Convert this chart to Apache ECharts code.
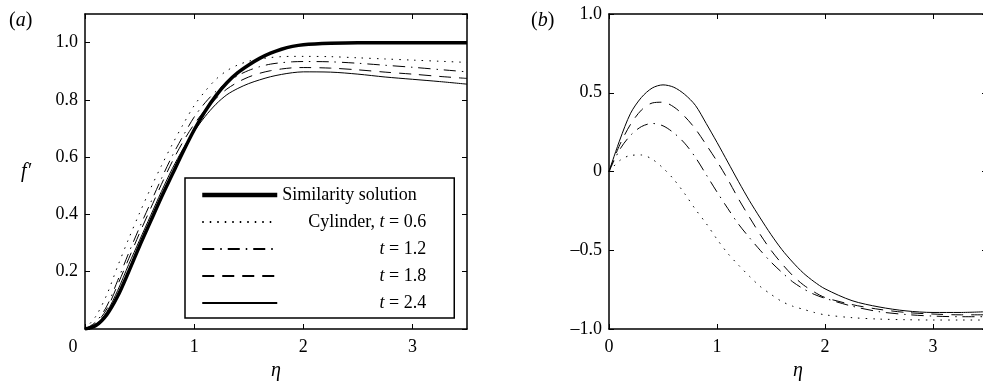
<!DOCTYPE html>
<html lang="en">
<head>
    <meta charset="UTF-8">
    <title>f' profiles</title>
    <script src="https://cdn.jsdelivr.net/npm/echarts/dist/echarts.min.js"></script>
</head>
<body style="margin: 0">
    <div id="chart" style="width: 983px; height: 383px;"></div>
    <script>
        // eta grid shared by all curves
        const eta = [0, 0.1, 0.2, 0.3, 0.4, 0.5, 0.6, 0.7, 0.8, 0.9, 1.0, 1.1, 1.2, 1.3, 1.4, 1.5, 1.6, 1.7, 1.8, 1.9, 2.0, 2.25, 2.5, 2.75, 3.0, 3.25, 3.5];

        // panel (a): f'
        const simA   = [0, 0.012, 0.05, 0.115, 0.2, 0.29, 0.375, 0.46, 0.54, 0.62, 0.695, 0.76, 0.815, 0.86, 0.895, 0.922, 0.945, 0.963, 0.977, 0.987, 0.993, 0.998, 1, 1, 1, 1, 1];
        const cyl06A = [0, 0.045, 0.12, 0.22, 0.315, 0.405, 0.49, 0.57, 0.645, 0.715, 0.78, 0.83, 0.872, 0.902, 0.922, 0.935, 0.943, 0.948, 0.951, 0.952, 0.952, 0.951, 0.947, 0.943, 0.939, 0.935, 0.931];
        const cyl12A = [0, 0.025, 0.08, 0.17, 0.265, 0.355, 0.44, 0.525, 0.605, 0.675, 0.74, 0.79, 0.83, 0.86, 0.885, 0.903, 0.916, 0.925, 0.93, 0.933, 0.934, 0.933, 0.928, 0.921, 0.914, 0.906, 0.898];
        const cyl18A = [0, 0.02, 0.07, 0.155, 0.245, 0.335, 0.42, 0.505, 0.585, 0.655, 0.715, 0.765, 0.805, 0.838, 0.862, 0.88, 0.893, 0.902, 0.908, 0.912, 0.913, 0.911, 0.905, 0.897, 0.89, 0.882, 0.875];
        const cyl24A = [0, 0.015, 0.06, 0.135, 0.225, 0.31, 0.395, 0.48, 0.56, 0.63, 0.69, 0.742, 0.785, 0.818, 0.84, 0.857, 0.87, 0.881, 0.889, 0.895, 0.898, 0.897, 0.89, 0.88, 0.872, 0.864, 0.855];

        // panel (b)
        const cyl06B = [0, 0.07, 0.102, 0.105, 0.078, 0.022, -0.05, -0.14, -0.24, -0.33, -0.43, -0.52, -0.595, -0.665, -0.73, -0.78, -0.825, -0.855, -0.875, -0.895, -0.91, -0.928, -0.937, -0.941, -0.943, -0.943, -0.943];
        const cyl12B = [0, 0.14, 0.23, 0.285, 0.305, 0.29, 0.245, 0.18, 0.09, -0.02, -0.13, -0.235, -0.335, -0.42, -0.5, -0.575, -0.64, -0.7, -0.745, -0.78, -0.805, -0.855, -0.89, -0.908, -0.918, -0.922, -0.922];
        const cyl18B = [0, 0.17, 0.3, 0.39, 0.435, 0.44, 0.41, 0.35, 0.27, 0.17, 0.065, -0.05, -0.175, -0.29, -0.4, -0.5, -0.585, -0.66, -0.72, -0.765, -0.8, -0.845, -0.875, -0.895, -0.905, -0.91, -0.91];
        const cyl24B = [0, 0.2, 0.37, 0.47, 0.53, 0.55, 0.535, 0.49, 0.42, 0.305, 0.185, 0.06, -0.065, -0.185, -0.295, -0.4, -0.495, -0.575, -0.645, -0.7, -0.745, -0.82, -0.86, -0.885, -0.895, -0.895, -0.89];

        const legendNames = ['Similarity solution', 'Cylinder, t = 0.6', 't = 1.2', 't = 1.8', 't = 2.4'];

        const FONT = 'Liberation Serif';
        const dotted = [1.5, 6];
        const dashDot = [12, 6, 1.5, 6];
        const dashed = [12, 8];

        const pairs = arr => eta.map((x, i) => [x, arr[i]]);

        const chart = echarts.init(document.getElementById('chart'));

        const tickStyle = { inside: true, length: 5, lineStyle: { color: '#000', width: 1 } };
        const lineAxis = { show: true, onZero: false, lineStyle: { color: '#000', width: 1.5 } };
        const labelStyle = { color: '#000', fontFamily: FONT, fontSize: 18 };

        function xAxes(grid, zeroShift) {
            return [
                {
                    type: 'value', gridIndex: grid, min: 0, max: 3.5, interval: 1,
                    axisLine: lineAxis, axisTick: tickStyle, splitLine: { show: false },
                    axisLabel: Object.assign({}, labelStyle, {
                        margin: 9, showMaxLabel: false,
                        formatter: v => (v === 0 && zeroShift) ? '{s|0}' : String(v),
                        rich: { s: { fontFamily: FONT, fontSize: 18, color: '#000', padding: [0, 24, 0, 0] } }
                    }),
                    name: 'η', nameLocation: 'middle', nameGap: 32,
                    nameTextStyle: { fontFamily: FONT, fontSize: 20, fontStyle: 'italic', color: '#000' }
                },
                {
                    type: 'value', gridIndex: grid, position: 'top', min: 0, max: 3.5, interval: 1,
                    axisLine: lineAxis, axisTick: tickStyle, axisLabel: { show: false }, splitLine: { show: false }
                }
            ];
        }

        function yAxes(grid, min, max, interval, fmt, name) {
            return [
                {
                    type: 'value', gridIndex: grid, min: min, max: max, interval: interval,
                    axisLine: lineAxis, axisTick: tickStyle, splitLine: { show: false },
                    axisLabel: Object.assign({}, labelStyle, { margin: 7, showMaxLabel: max !== 1.1, formatter: fmt }),
                    name: name, nameLocation: 'middle', nameRotate: 0, nameGap: 54,
                    nameTextStyle: { fontFamily: FONT, fontSize: 20, fontStyle: 'italic', color: '#000' }
                },
                {
                    type: 'value', gridIndex: grid, position: 'right', min: min, max: max, interval: interval,
                    axisLine: lineAxis, axisTick: tickStyle, axisLabel: { show: false }, splitLine: { show: false }
                }
            ];
        }

        const fmtA = v => v === 0 ? '' : v.toFixed(1);
        const fmtB = v => v === 0 ? '0' : (v < 0 ? '\u2013' : '') + Math.abs(v).toFixed(1);

        function line(name, data, xi, yi, type, width) {
            return {
                name: name, type: 'line', xAxisIndex: xi, yAxisIndex: yi,
                data: pairs(data), smooth: 0.3, symbol: 'none', showSymbol: false,
                lineStyle: { color: '#000', width: width, type: type },
                itemStyle: { color: '#000' }
            };
        }

        const rich = {
            l: { fontFamily: FONT, fontSize: 18, color: '#000', align: 'left' },
            r: { fontFamily: FONT, fontSize: 18, color: '#000', align: 'right' },
            ri: { fontFamily: FONT, fontSize: 18, color: '#000', align: 'right', fontStyle: 'italic' }
        };

        const option = {
            animation: false,
            backgroundColor: '#fff',
            title: [
                { text: '({i|a})', left: 4, top: 6, textStyle: { fontFamily: FONT, fontSize: 20, fontWeight: 'normal', color: '#000', rich: { i: { fontFamily: FONT, fontSize: 20, fontStyle: 'italic', color: '#000' } } } },
                { text: '({i|b})', left: 526, top: 6, textStyle: { fontFamily: FONT, fontSize: 20, fontWeight: 'normal', color: '#000', rich: { i: { fontFamily: FONT, fontSize: 20, fontStyle: 'italic', color: '#000' } } } }
            ],
            grid: [
                { left: 85, top: 14, width: 382, height: 315, outerBoundsMode: 'none' },
                { left: 609, top: 14, width: 378, height: 315, outerBoundsMode: 'none' }
            ],
            legend: {
                data: legendNames.map(n => n === 'Similarity solution'
                    ? { name: n, lineStyle: { width: 4.5 } }
                    : { name: n }),
                orient: 'vertical',
                left: 185, top: 178,
                padding: [8, 28, 6, 15],
                itemWidth: 75, itemHeight: 14, itemGap: 9,
                backgroundColor: '#fff',
                borderColor: '#000', borderWidth: 1.5, borderRadius: 0,
                selectedMode: false,
                itemStyle: { opacity: 0, borderWidth: 0 },
                textStyle: { fontFamily: FONT, fontSize: 18, color: '#000', width: 144, lineHeight: 18, rich: rich },
                formatter: function (name) {
                    if (name === 'Similarity solution') return '{l|Similarity solution}';
                    if (name === 'Cylinder, t = 0.6') return '{r|Cylinder, }{ri|t}{r| = 0.6}';
                    return '{ri|t}{r|' + name.slice(1) + '}';
                }
            },
            xAxis: xAxes(0, true).concat(xAxes(1, false)),
            yAxis: yAxes(0, 0, 1.1, 0.2, fmtA, 'f\u2032').concat(yAxes(1, -1, 1, 0.5, fmtB, '')),
            series: [
                line('Cylinder, t = 0.6', cyl06A, 0, 0, dotted, 1),
                line('t = 1.2', cyl12A, 0, 0, dashDot, 1),
                line('t = 1.8', cyl18A, 0, 0, dashed, 1),
                line('t = 2.4', cyl24A, 0, 0, 'solid', 1),
                line('Similarity solution', simA, 0, 0, 'solid', 3.5),
                line('(b) t = 0.6', cyl06B, 2, 2, dotted, 1),
                line('(b) t = 1.2', cyl12B, 2, 2, dashDot, 1),
                line('(b) t = 1.8', cyl18B, 2, 2, dashed, 1),
                line('(b) t = 2.4', cyl24B, 2, 2, 'solid', 1)
            ]
        };

        chart.setOption(option);
    </script>
</body>
</html>
